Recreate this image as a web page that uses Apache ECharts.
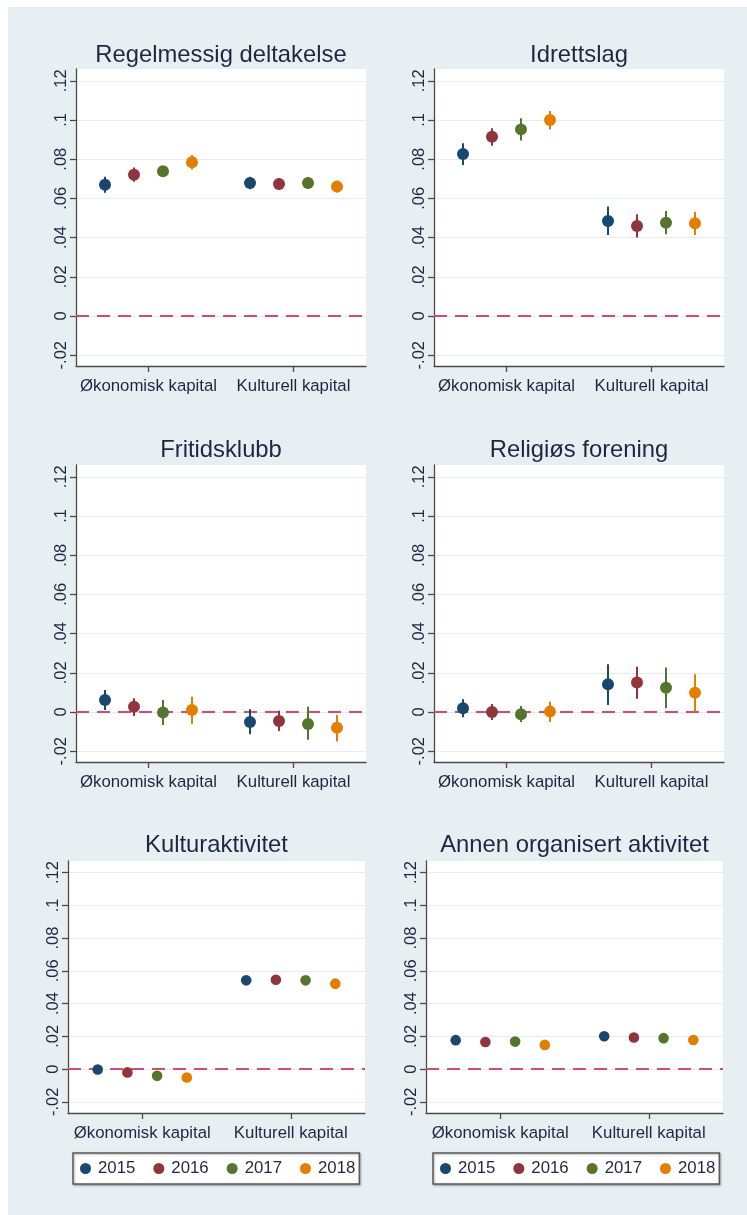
<!DOCTYPE html>
<html><head><meta charset="utf-8">
<script src="https://cdn.jsdelivr.net/npm/echarts@6/dist/echarts.min.js"></script>
<style>html,body{margin:0;padding:0;background:#fff}#c{width:747px;height:1215px}</style>
</head><body><div id="c"></div>
<script>
// ---------- data ----------
const categories = ['Økonomisk kapital', 'Kulturell kapital'];
const years = ['2015', '2016', '2017', '2018'];
const yTicks = [-0.02, 0, 0.02, 0.04, 0.06, 0.08, 0.1, 0.12];
const panelTitles = ['Regelmessig deltakelse', 'Idrettslag', 'Fritidsklubb', 'Religiøs forening', 'Kulturaktivitet', 'Annen organisert aktivitet'];

// each array: rows = years (2015..2018), columns = [Økonomisk, Kulturell]
const regelEst = [[0.0670, 0.0679], [0.0721, 0.0673], [0.0738, 0.0679], [0.0784, 0.0660]];
const regelLo  = [[0.0629, 0.0647], [0.0685, 0.0643], [0.0718, 0.0649], [0.0747, 0.0630]];
const regelHi  = [[0.0711, 0.0711], [0.0757, 0.0703], [0.0758, 0.0709], [0.0821, 0.0690]];

const idrettEst = [[0.0827, 0.0485], [0.0915, 0.0459], [0.0952, 0.0476], [0.1000, 0.0473]];
const idrettLo  = [[0.0770, 0.0413], [0.0869, 0.0400], [0.0895, 0.0417], [0.0952, 0.0413]];
const idrettHi  = [[0.0881, 0.0558], [0.0958, 0.0519], [0.1009, 0.0536], [0.1046, 0.0532]];

const fritidEst = [[0.0061, -0.0051], [0.0027, -0.0046], [-0.0002, -0.0061], [0.0010, -0.0080]];
const fritidLo  = [[0.0010, -0.0113], [-0.0020, -0.0097], [-0.0066, -0.0142], [-0.0061, -0.0151]];
const fritidHi  = [[0.0112, 0.0014], [0.0070, 0.0007], [0.0061, 0.0027], [0.0078, -0.0015]];

const religEst = [[0.0019, 0.0142], [0.0000, 0.0151], [-0.0012, 0.0124], [0.0002, 0.0098]];
const religLo  = [[-0.0027, 0.0036], [-0.0041, 0.0068], [-0.0051, 0.0019], [-0.0051, 0.0002]];
const religHi  = [[0.0065, 0.0243], [0.0041, 0.0231], [0.0031, 0.0227], [0.0052, 0.0192]];

const kulturEst = [[-0.0002, 0.0542], [-0.0020, 0.0546], [-0.0041, 0.0542], [-0.0051, 0.0522]];
const kulturLo  = [[-0.0020, 0.0524], [-0.0038, 0.0528], [-0.0059, 0.0524], [-0.0069, 0.0504]];
const kulturHi  = [[0.0016, 0.0560], [-0.0002, 0.0564], [-0.0023, 0.0560], [-0.0033, 0.0540]];

const annenEst = [[0.0177, 0.0201], [0.0166, 0.0193], [0.0168, 0.0189], [0.0148, 0.0178]];
const annenLo  = [[0.0160, 0.0184], [0.0149, 0.0176], [0.0151, 0.0172], [0.0131, 0.0161]];
const annenHi  = [[0.0194, 0.0218], [0.0183, 0.0210], [0.0185, 0.0206], [0.0165, 0.0195]];

const panelData = [
  [regelEst, regelLo, regelHi],
  [idrettEst, idrettLo, idrettHi],
  [fritidEst, fritidLo, fritidHi],
  [religEst, religLo, religHi],
  [kulturEst, kulturLo, kulturHi],
  [annenEst, annenLo, annenHi]
];

// ---------- styling / layout ----------
const colors = ['#1a476f', '#90353b', '#55752f', '#e37e00'];
const FONT = 'Liberation Sans, Arial, sans-serif';
const TXT = '#1f2740';
const AX = '#4a4a4a';
const grids = [
  {left: 76, top: 69, width: 290, height: 297},
  {left: 434, top: 69, width: 290, height: 297},
  {left: 76, top: 465, width: 290, height: 297},
  {left: 434, top: 465, width: 290, height: 297},
  {left: 68, top: 861, width: 297, height: 252},
  {left: 426, top: 861, width: 297, height: 252}
];
const yRanges = [[-0.0255, 0.126], [-0.0255, 0.126], [-0.0255, 0.126], [-0.0255, 0.126], [-0.0268, 0.1271], [-0.0268, 0.1271]];
const titleTops = [43, 43, 438, 438, 833, 833];
const markerR = [6, 6, 6, 6, 5.3, 5.3];

function fmt(v) {
  if (Math.abs(v) < 1e-9) return '0';
  return String(+v.toFixed(2)).replace('0.', '.');
}

function makeRender(s, r) {
  return function (params, api) {
    const ci = api.value(0);
    const pt = api.coord([ci, api.value(1)]);
    const pLo = api.coord([ci, api.value(2)]);
    const pHi = api.coord([ci, api.value(3)]);
    const band = api.size([1, 0])[0];
    const x = pt[0] + (s - 1.5) * band * 0.2;
    const color = api.visual('color');
    return {
      type: 'group',
      children: [
        {type: 'line', shape: {x1: x, y1: pLo[1], x2: x, y2: pHi[1]}, style: {stroke: color, lineWidth: 2}},
        {type: 'circle', shape: {cx: x, cy: pt[1], r: r}, style: {fill: color}}
      ]
    };
  };
}

const option = {
  animation: false,
  backgroundColor: '#ffffff',
  graphic: {elements: [{type: 'rect', z: -100, silent: true, shape: {x: 8, y: 7, width: 739, height: 1208}, style: {fill: '#e8eff2'}}]},
  title: grids.map((g, i) => ({
    text: panelTitles[i],
    left: g.left + g.width / 2,
    top: titleTops[i],
    textAlign: 'center',
    padding: 0,
    textStyle: {fontFamily: FONT, fontSize: 23.8, fontWeight: 'normal', color: TXT}
  })),
  grid: grids.map(g => Object.assign({show: true, backgroundColor: '#ffffff', borderWidth: 0, containLabel: false}, g)),
  xAxis: grids.map((g, i) => ({
    gridIndex: i, type: 'category', data: categories, boundaryGap: true,
    axisLine: {show: true, onZero: false, lineStyle: {color: AX, width: 1.3}},
    axisTick: {show: true, alignWithLabel: true, length: 6, lineStyle: {color: AX, width: 1.3}},
    axisLabel: {margin: 12, fontFamily: FONT, fontSize: 16.8, color: TXT, interval: 0},
    splitLine: {show: false}
  })),
  yAxis: grids.map((g, i) => ({
    gridIndex: i, type: 'value', min: yRanges[i][0], max: yRanges[i][1],
    axisLine: {show: true, onZero: false, lineStyle: {color: AX, width: 1.3}},
    axisTick: {show: true, length: 6, customValues: yTicks, lineStyle: {color: AX, width: 1.3}},
    axisLabel: {customValues: yTicks, rotate: 90, margin: 6, formatter: fmt, fontFamily: FONT, fontSize: 16.5, color: TXT},
    splitLine: {show: true, lineStyle: {color: '#e4ecef', width: 1.2}}
  })),
  legend: [
    {left: 73, top: 1153},
    {left: 433, top: 1153}
  ].map(p => ({
    left: p.left, top: p.top, orient: 'horizontal', data: years, icon: 'circle',
    itemWidth: 11, itemHeight: 11, itemGap: 18, padding: [7, 4, 7, 7],
    backgroundColor: '#ffffff', borderColor: '#5a5a5a', borderWidth: 1.5, borderRadius: 0,
    shadowColor: 'rgba(0,0,0,0.3)', shadowBlur: 2, shadowOffsetX: 1, shadowOffsetY: 1,
    selectedMode: false,
    textStyle: {fontFamily: FONT, fontSize: 16.8, color: TXT, padding: [0, 0, 0, 2]}
  })),
  series: []
};

panelData.forEach((pd, p) => {
  const [est, lo, hi] = pd;
  years.forEach((yr, s) => {
    const ser = {
      type: 'custom', name: yr, xAxisIndex: p, yAxisIndex: p,
      itemStyle: {color: colors[s]},
      encode: {x: 0, y: 1},
      renderItem: makeRender(s, markerR[p]),
      data: categories.map((c, ci) => [ci, est[s][ci], lo[s][ci], hi[s][ci]]),
      z: 5
    };
    if (s === 0) {
      ser.markLine = {
        silent: true, symbol: 'none', label: {show: false}, z: 3,
        lineStyle: {color: '#d64a6b', type: [13, 8], width: 2},
        data: [{yAxis: 0}]
      };
    }
    option.series.push(ser);
  });
});

const chart = echarts.init(document.getElementById('c'), null, {renderer: 'canvas'});
chart.setOption(option);
</script>
</body></html>
